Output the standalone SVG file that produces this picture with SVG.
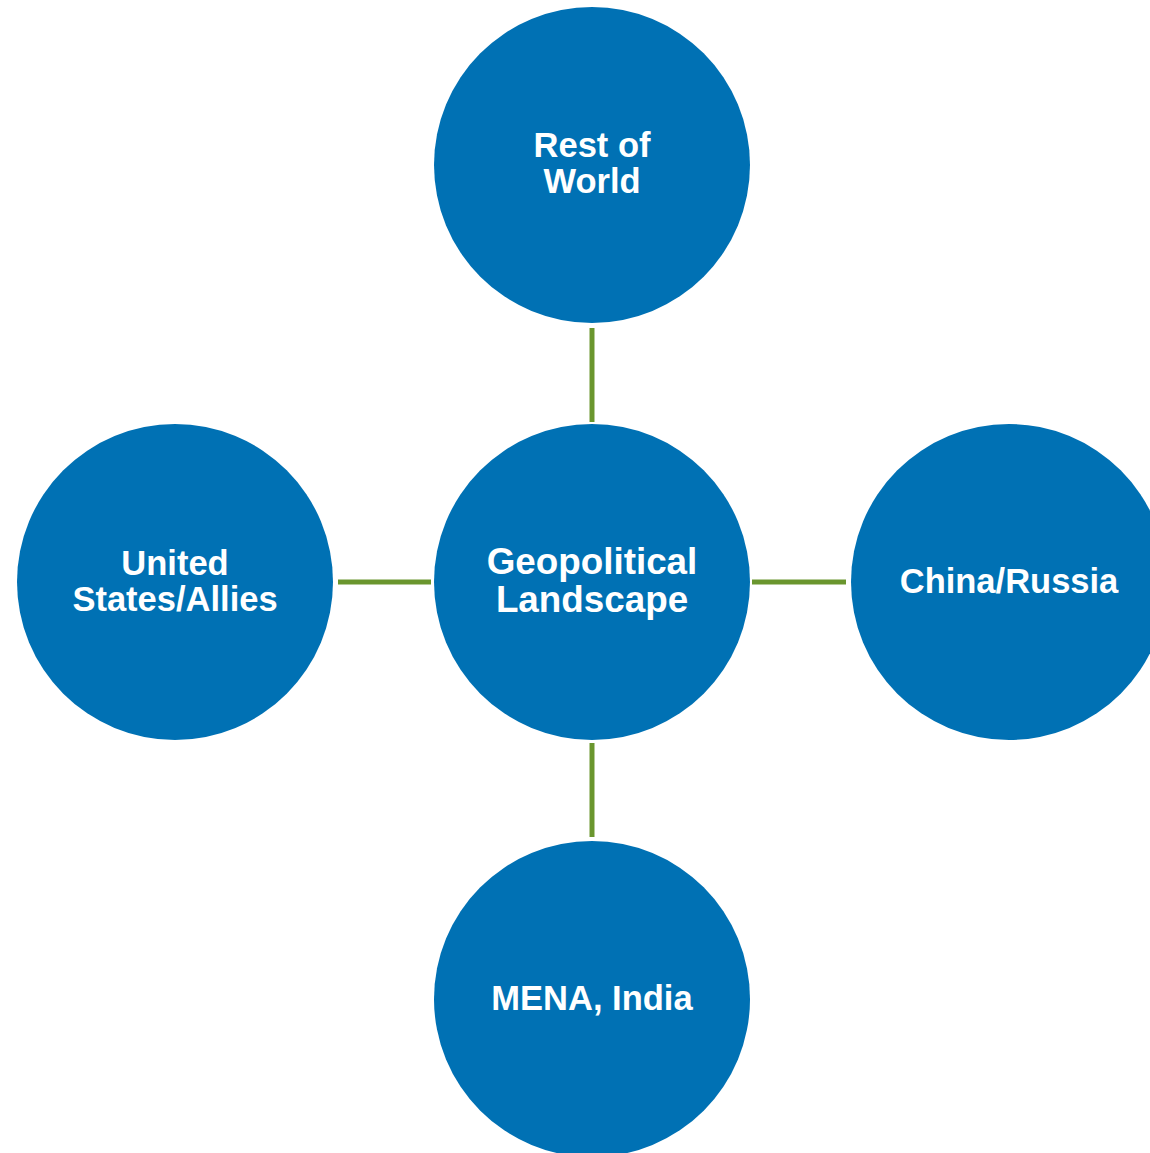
<svg xmlns="http://www.w3.org/2000/svg" width="1150" height="1153" viewBox="0 0 1150 1153">
<style>
.n{fill:#0071b4}
.t{fill:#fff;font-family:"Liberation Sans",Arial,sans-serif;font-weight:bold;font-size:34.5px;text-anchor:middle}
.c{font-size:36.8px}
.e{stroke:#6a962e;stroke-width:5;fill:none}
</style>
<rect width="1150" height="1153" fill="#fff"/>
<g id="connectors">
<line class="e" x1="592" y1="328" x2="592" y2="422"/>
<line class="e" x1="592" y1="743" x2="592" y2="837"/>
<line class="e" x1="338" y1="582" x2="431" y2="582"/>
<line class="e" x1="752" y1="582" x2="846" y2="582"/>
</g>
<g id="rest-of-world"><circle class="n" cx="592" cy="165" r="158"/><text class="t" x="592" y="157">Rest of</text><text class="t" x="592" y="193">World</text></g>
<g id="geopolitical-landscape"><circle class="n" cx="592" cy="582" r="158"/><text class="t c" x="592" y="574">Geopolitical</text><text class="t c" x="592" y="612">Landscape</text></g>
<g id="united-states-allies"><circle class="n" cx="175" cy="582" r="158"/><text class="t" x="175" y="575">United</text><text class="t" x="175" y="611">States/Allies</text></g>
<g id="china-russia"><circle class="n" cx="1009" cy="582" r="158"/><text class="t" x="1009" y="593">China/Russia</text></g>
<g id="mena-india"><circle class="n" cx="592" cy="999" r="158"/><text class="t" x="592" y="1010">MENA, India</text></g>
</svg>
